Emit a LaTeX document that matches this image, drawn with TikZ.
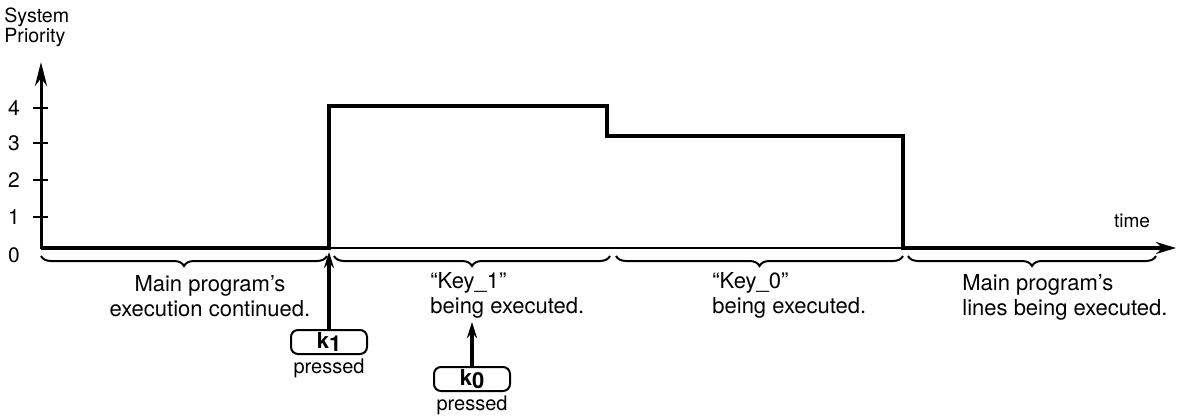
\documentclass[tikz,border=0pt]{standalone}
\usepackage{fontspec}
\setmainfont{TeX Gyre Heros}
\usetikzlibrary{arrows.meta, decorations.pathreplacing, positioning}

\tikzset{
  prio/.style={line width=2pt},
  axisline/.style={line width=1.5pt},
  ticks/.style={line width=1pt},
  phase/.style={decorate, decoration={brace, mirror, amplitude=5pt, aspect=0.5}, line width=1pt},
  note/.style={inner sep=0pt, font=\fontsize{11}{12.5}\selectfont},
  small/.style={inner sep=0pt, font=\fontsize{10.5}{10.5}\selectfont},
  keybox/.style={draw, line width=1pt, rounded corners=3.5pt, minimum width=38pt, minimum height=12pt, inner sep=0pt, font=\bfseries\fontsize{11}{11}\selectfont},
  keyarrow/.style={line width=1.6pt, -{Stealth[length=8pt,width=5pt]}}
}

\begin{document}
\begin{tikzpicture}[x=0.5pt, y=-0.5pt]
    \useasboundingbox (0,0) rectangle (1178,417);

    % axe des priorites
    \draw[axisline, -{Stealth[length=12pt,width=6pt]}] (41,249) -- (41,62);
    \node[small, anchor=north west, align=left, font=\fontsize{9.8}{9}\selectfont] (ylabel) at (4,7) {System\\Priority};
    \foreach \v/\y in {4/108, 3/143, 2/180, 1/217} {
        \draw[ticks] (33,\y) -- (48,\y);
        \node[small] (lab\v) at (14,\y) {\v};
    }
    \node[small] (lab0) at (14,255) {0};

    % axe du temps
    \draw[ticks] (329,248) -- (903,248);
    \node[small, font=\fontsize{9.5}{9.5}\selectfont] (tlabel) at (1132,221) {time};

    % niveau de priorite
    \draw[prio, -{Stealth[length=10pt,width=6pt]}] (41,248) -- (329,248) -- (329,106) -- (607,106)
        -- (607,136) -- (903,136) -- (903,248) -- (1176,248);

    % accolades sous l'axe
    \draw[phase] (41,256) -- (327,256);
    \draw[phase] (334,256) -- (610,256);
    \draw[phase] (616,256) -- (903,256);
    \draw[phase] (908,256) -- (1156,256);

    % textes des phases
    \node[note, align=center] (main1) at (210,296) {Main program's\\execution continued.};
    \node[note, align=left, anchor=west] (key1) at (430,295) {``Key\_1''\\being executed.};
    \node[note, align=left, anchor=west] (key0) at (712,295) {``Key\_0''\\being executed.};
    \node[note, align=left, anchor=west] (main2) at (962,297) {Main program's\\lines being executed.};

    % touches
    \node[keybox] (k1) at (329,342) {k\raisebox{-0.25ex}{1}};
    \node[small, font=\fontsize{10}{10}\selectfont, below=2pt of k1] (p1) {pressed};
    \node[keybox] (k0) at (472,379) {k\raisebox{-0.25ex}{0}};
    \node[small, font=\fontsize{10}{10}\selectfont, below=2pt of k0] (p0) {pressed};

    \coordinate (t1) at (329,252);
    \coordinate (t0) at (472,322);
    \draw[keyarrow] (k1.north) -- (t1);
    \draw[keyarrow] (k0.north) -- (t0);
\end{tikzpicture}
\end{document}
